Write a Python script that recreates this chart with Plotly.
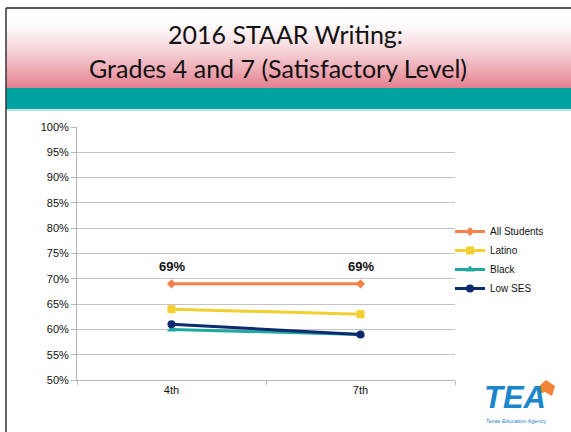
import plotly.graph_objects as go

categories = ["4th", "7th"]
all_students = [69, 69]
latino = [64, 63]
black = [60, 59]
low_ses = [61, 59]
label_all = ["69%", "69%"]
y_ticks = [50, 55, 60, 65, 70, 75, 80, 85, 90, 95, 100]
y_tick_labels = [f"{v}%" for v in y_ticks]

W, H = 571, 432
L, R, T, B = 77, 116, 127, 52

fig = go.Figure()

series = [
    ("All Students", all_students, "#f5814c", "diamond", 7),
    ("Latino", latino, "#f1cf2f", "square", 8),
    ("Black", black, "#1fa9a1", "triangle-up", 8),
    ("Low SES", low_ses, "#0c2b6e", "circle", 8),
]
for name, vals, col, sym, ms in series:
    fig.add_trace(go.Scatter(
        x=categories, y=vals, name=name, mode="lines+markers",
        line=dict(color=col, width=3),
        marker=dict(color=col, symbol=sym, size=ms),
    ))


def px_x(x):
    return (x - L) / (W - L - R)


def px_y(y):
    return (H - B - y) / (H - T - B)


shapes = []
g_top, g_bot = 20, 88
n = 34
for i in range(n):
    y0 = g_top + (g_bot - g_top) * i / n
    y1 = g_top + (g_bot - g_top) * (i + 1) / n
    f = ((i + 0.5) / n) ** 1.3
    r = int(255 + (229 - 255) * f)
    g = int(255 + (128 - 255) * f)
    b = int(255 + (143 - 255) * f)
    shapes.append(dict(type="rect", xref="paper", yref="paper",
                       x0=px_x(6), x1=px_x(W), y0=px_y(y1 + 0.3), y1=px_y(y0),
                       fillcolor=f"rgb({r},{g},{b})", line=dict(width=0), layer="below"))
shapes.append(dict(type="rect", xref="paper", yref="paper",
                   x0=px_x(6), x1=px_x(W), y0=px_y(109), y1=px_y(88),
                   fillcolor="#00a39f", line=dict(width=0), layer="below"))
shapes.append(dict(type="line", xref="paper", yref="paper",
                   x0=px_x(6), x1=px_x(W), y0=px_y(110), y1=px_y(110),
                   line=dict(color="#9fdcd9", width=1.5), layer="below"))
shapes.append(dict(type="line", xref="paper", yref="paper",
                   x0=px_x(6), x1=px_x(W), y0=px_y(8), y1=px_y(8),
                   line=dict(color="#222222", width=1.5)))
shapes.append(dict(type="line", xref="paper", yref="paper",
                   x0=px_x(6), x1=px_x(6), y0=px_y(8), y1=px_y(H),
                   line=dict(color="#333333", width=1.5)))
pts = [(537, 388), (546, 380), (555, 386), (552, 396), (545, 392), (539, 394)]
path = "M " + " L ".join(f"{px_x(a)},{px_y(b)}" for a, b in pts) + " Z"
shapes.append(dict(type="path", xref="paper", yref="paper", path=path,
                   fillcolor="#f08438", line=dict(width=0)))


def ann(text, x, y, size, family, color="#111111"):
    return dict(text=text, xref="paper", yref="paper", x=px_x(x), y=px_y(y),
                xanchor="center", yanchor="middle", showarrow=False,
                font=dict(family=family, size=size, color=color))


annotations = [
    ann("2016 STAAR Writing:", 285, 34, 25, "Lato"),
    ann("Grades 4 and 7 (Satisfactory Level)", 278, 68, 25, "Lato"),
    ann("<b><i>TEA</i></b>", 515, 397, 31, "Liberation Sans", "#1b86cc"),
    ann("Texas Education Agency", 516, 421, 5.5, "Liberation Sans", "#1b86cc"),
]
for c, v, t in zip(categories, all_students, label_all):
    annotations.append(dict(x=c, y=v, xref="x", yref="y", text=f"<b>{t}</b>",
                            showarrow=False, yshift=17,
                            font=dict(family="Liberation Sans", size=13, color="#111111")))

fig.update_layout(
    width=W, height=H,
    margin=dict(l=L, r=R, t=T, b=B, autoexpand=False),
    paper_bgcolor="white", plot_bgcolor="white",
    shapes=shapes, annotations=annotations,
    showlegend=True,
    legend=dict(x=px_x(450), y=px_y(217), xanchor="left", yanchor="top",
                font=dict(family="Liberation Sans", size=10, color="#111111"),
                bgcolor="rgba(0,0,0,0)", itemwidth=30, tracegroupgap=0),
    xaxis=dict(type="category", range=[-0.5, 1.5], showgrid=False,
               showline=True, linecolor="#b5b5b5", linewidth=1,
               ticks="outside", tickson="boundaries", ticklen=4, tickcolor="#b5b5b5",
               tickfont=dict(family="Liberation Sans", size=11, color="#111111"),
               fixedrange=True),
    yaxis=dict(range=[50, 100], tickvals=y_ticks, ticktext=y_tick_labels,
               showgrid=True, gridcolor="#c4c4c4", gridwidth=1,
               showline=True, linecolor="#b5b5b5", linewidth=1,
               ticks="outside", ticklen=5, tickcolor="#b5b5b5",
               tickfont=dict(family="Liberation Sans", size=11, color="#111111"),
               zeroline=False),
)

fig.write_html("out.html", config={"displayModeBar": False},
               post_script="document.body.style.margin='0';document.body.style.overflow='hidden';")
